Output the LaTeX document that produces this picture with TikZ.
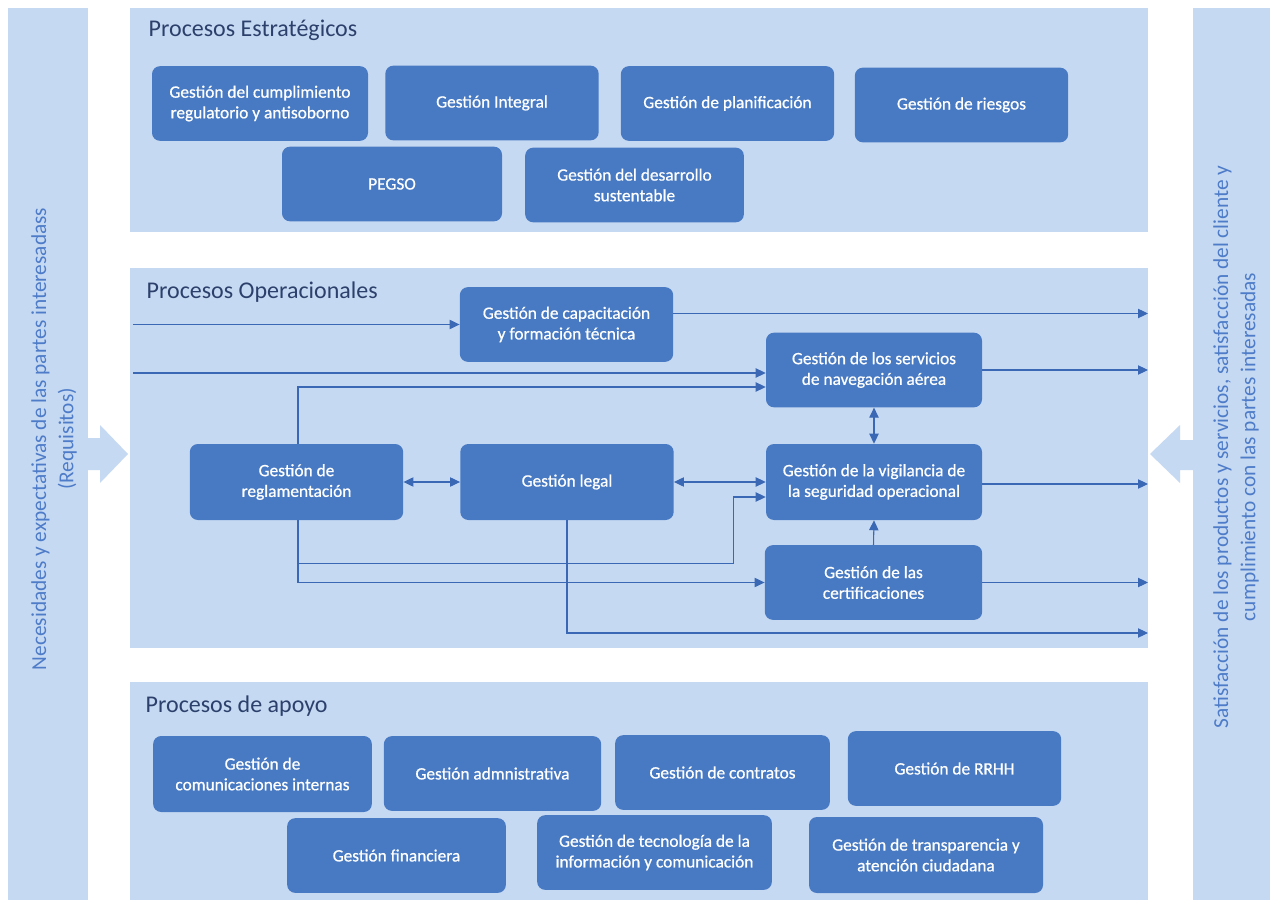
\documentclass[tikz,border=0pt]{standalone}
\usepackage{fontspec}
\setmainfont{Carlito}
\newfontfamily\cajafont{Carlito}[FakeBold=0.7]
\usepackage{tikz}
\usetikzlibrary{positioning,arrows.meta,calc}

\definecolor{fondo}{RGB}{198,217,242}
\definecolor{azulcaja}{RGB}{72,122,195}
\definecolor{azullinea}{RGB}{58,104,180}
\definecolor{azultitulo}{RGB}{44,64,108}
\definecolor{azullateral}{RGB}{78,124,200}

\tikzset{
    caja/.style={fill=azulcaja, rounded corners=6pt, text=white, align=center,
        minimum width=160pt, minimum height=56pt, inner sep=2pt,
        font=\cajafont\fontsize{13}{15.5}\selectfont},
    titulo/.style={anchor=west, text=azultitulo, font=\fontsize{18}{21}\selectfont},
    lateral/.style={rotate=90, align=center, text=azullateral,
        font=\fontsize{16}{20.5}\selectfont},
    flecha/.style={draw=azullinea, line width=0.8pt, -{Triangle[length=7.5pt,width=7pt]}},
    doble/.style={draw=azullinea, line width=0.8pt,
        {Triangle[length=7.5pt,width=7pt]}-{Triangle[length=7.5pt,width=7pt]}},
}

\begin{document}
\begin{tikzpicture}[x=0.75pt, y=-0.75pt]
    \useasboundingbox (0,0) rectangle (1277,905);
    \fill[white] (0,0) rectangle (1277,905);
    % barras laterales
    \fill[fondo] (8,8) rectangle (88,900);
    \fill[fondo] (1193,8) rectangle (1270,900);
    \fill[fondo] (87,438) -- (100,438) -- (100,425) -- (128,454) -- (100,483) -- (100,470) -- (87,470) -- cycle;
    \fill[fondo] (1194,440) -- (1180,440) -- (1180,425) -- (1150,454) -- (1180,483) -- (1180,470) -- (1194,470) -- cycle;
    \node[lateral] (necesidades) at (54,439) {Necesidades y expectativas de las partes interesadass\\(Requisitos)};
    \node[lateral] (satisfaccion) at (1236,447) {Satisfacción de los productos y servicios, satisfacción del cliente y\\cumplimiento con las partes interesadas};
    % secciones
    \fill[fondo] (130,8) rectangle (1148,232);
    \fill[fondo] (130,268) rectangle (1148,648);
    \fill[fondo] (130,682) rectangle (1148,900);
    \node[titulo] (estrategicos) at (144,30) {Procesos Estratégicos};
    \node[titulo] (operacionales) at (142,292) {Procesos Operacionales};
    \node[titulo] (apoyo) at (141,706) {Procesos de apoyo};

    % procesos estrategicos
    \node[caja, minimum width=162pt] (cumplimiento) at (260,103.5) {Gestión del cumplimiento\\regulatorio y antisoborno};
    \node[caja] (integral) at (492,103) {Gestión Integral};
    \node[caja] (planificacion) at (727.5,103.5) {Gestión de planificación};
    \node[caja] (riesgos) at (961.5,105) {Gestión de riesgos};
    \node[caja, minimum width=165pt] (pegso) at (392,184) {PEGSO};
    \node[caja, minimum width=164pt] (desarrollo) at (634.5,185) {Gestión del desarrollo\\sustentable};

    % procesos operacionales
    \node[caja] (cap) at (566.5,324.5) {Gestión de capacitación\\y formación técnica};
    \node[caja, minimum width=162pt] (nav) at (874,370) {Gestión de los servicios\\de navegación aérea};
    \node[caja, minimum height=57pt] (regl) at (296.5,482) {Gestión de\\reglamentación};
    \node[caja, minimum height=57pt] (legal) at (567,482) {Gestión legal};
    \node[caja, minimum width=162pt, minimum height=57pt] (vig) at (874,482) {Gestión de la vigilancia de\\la seguridad operacional};
    \node[caja, minimum width=163pt] (cert) at (873.5,582.5) {Gestión de las\\certificaciones};

    \coordinate (entrada1) at (133,324.5);
    \coordinate (entrada2) at (133,373);
    \coordinate (borde) at (1148,0);
    \draw[flecha] (entrada1) -- (cap.west);
    \draw[flecha] (entrada2) -- (entrada2 -| nav.west);
    \draw[flecha] ($(regl.north)+(1.5,0)$) |- ($(nav.west)+(0,17)$);
    \draw[doble] (regl.east) -- (legal.west);
    \draw[doble] (legal.east) -- (vig.west);
    \draw[doble] (nav.south) -- (vig.north);
    \draw[flecha] (cert.north) -- (vig.south);
    \draw[flecha] ($(regl.south)+(1.5,0)$) |- (cert.west);
    \draw[flecha] ($(regl.south)+(1.5,43)$) -| ($(vig.west)+(-32,15)$) -- ($(vig.west)+(0,15)$);
    \draw[flecha] (legal.south) |- (borde |- 0,633);
    % salidas
    \draw[flecha] ($(cap.east)+(0,-11)$) -- (borde |- 0,313.5);
    \draw[flecha] (nav.east) -- (nav.east -| borde);
    \draw[flecha] ($(vig.east)+(0,2)$) -- (borde |- 0,484);
    \draw[flecha] (cert.east) -- (cert.east -| borde);

    % procesos de apoyo
    \node[caja, minimum width=164pt, minimum height=57pt] (comunicaciones) at (262.5,774) {Gestión de\\comunicaciones internas};
    \node[caja, minimum width=163pt] (administrativa) at (492.5,773.5) {Gestión admnistrativa};
    \node[caja, minimum width=161pt] (contratos) at (722.5,772.5) {Gestión de contratos};
    \node[caja] (rrhh) at (954.5,768.5) {Gestión de RRHH};
    \node[caja, minimum width=164pt] (financiera) at (396.5,855.5) {Gestión financiera};
    \node[caja, minimum width=176pt] (tecnologia) at (654.5,852.5) {Gestión de tecnología de la\\información y comunicación};
    \node[caja, minimum width=175.5pt, minimum height=57pt] (transparencia) at (926,855) {Gestión de transparencia y\\atención ciudadana};
\end{tikzpicture}
\end{document}
